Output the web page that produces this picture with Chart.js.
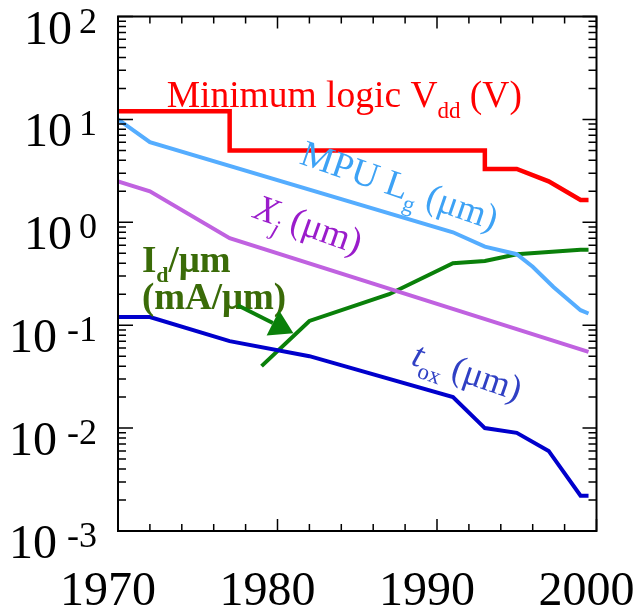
<!DOCTYPE html>
<html><head><meta charset="utf-8">
<style>html,body{margin:0;padding:0;background:#fff}</style>
<script src="https://cdn.jsdelivr.net/npm/chart.js@4/dist/chart.umd.min.js"></script>
</head><body>
<canvas id="c" width="633" height="611" style="display:block"></canvas>
<script>
// ---- data ----
const vddYears  = [1970, 1977, 1977, 1993, 1993, 1995, 1997, 1999, 1999.5];
const vddValues = [12, 12, 5, 5, 3.3, 3.3, 2.5, 1.65, 1.65];
const lgYears   = [1970, 1972, 1991, 1993, 1995, 1996, 1997.3, 1999, 1999.5];
const lgValues  = [10, 6, 0.8, 0.58, 0.49, 0.37, 0.235, 0.14, 0.13];
const xjYears   = [1970, 1972, 1977, 1999.5];
const xjValues  = [2.5, 2.0, 0.7, 0.055];
const toxYears  = [1970, 1972, 1977, 1982, 1991, 1993, 1995, 1997, 1999, 1999.5];
const toxValues = [0.12, 0.12, 0.07, 0.05, 0.02, 0.01, 0.009, 0.006, 0.0022, 0.0022];
const idYears   = [1979, 1982, 1987, 1991, 1993, 1995, 1999, 1999.5];
const idValues  = [0.04, 0.11, 0.2, 0.4, 0.42, 0.49, 0.54, 0.54];
const xTickLabels = [1970, 1980, 1990, 2000];
const xMinorTicks = [1972,1974,1976,1978,1982,1984,1986,1988,1992,1994,1996,1998];
const yExponents  = [-3, -2, -1, 0, 1, 2];

const SERIF = "'Liberation Serif', 'Times New Roman', serif";
const pts = (xs, ys) => xs.map((v, i) => ({x: v, y: ys[i]}));

// ---- annotations (in data coordinates) ----
const annotations = [
  {x: 1973.05, y: 13.15, angle: 0, color: '#ff0000', parts: [
    {t: 'Minimum logic V', f: '37.5px ' + SERIF},
    {t: 'dd', f: '23px ' + SERIF, dy: 11},
    {t: ' (V)', f: '37.5px ' + SERIF}]},
  {x: 1981.3, y: 3.74, angle: 19, color: '#3da2f5', parts: [
    {t: 'MPU L', f: '37px ' + SERIF},
    {t: 'g', f: '23px ' + SERIF, dy: 10},
    {t: ' (\u03BCm)', f: '37px ' + SERIF}]},
  {x: 1978.4, y: 1.12, angle: 19.5, color: '#9a1ccb', parts: [
    {t: 'X', f: 'italic 37px ' + SERIF},
    {t: 'j', f: 'italic 23px ' + SERIF, dy: 10},
    {t: ' (\u03BCm)', f: '37px ' + SERIF}]},
  {x: 1988.3, y: 0.0418, angle: 19, color: '#3040c4', parts: [
    {t: 't', f: 'italic 36px ' + SERIF},
    {t: 'ox', f: '23px ' + SERIF, dy: 10},
    {t: ' (\u03BCm)', f: '36px ' + SERIF}]},
  {x: 1971.5, y: 0.329, angle: 0, color: '#3a6b08', parts: [
    {t: 'I', f: 'bold 37px ' + SERIF},
    {t: 'd', f: 'bold 22px ' + SERIF, dy: 10},
    {t: '/\u03BCm', f: 'bold 37px ' + SERIF}]},
  {x: 1971.5, y: 0.145, angle: 0, color: '#3a6b08', parts: [
    {t: '(mA/\u03BCm)', f: 'bold 37px ' + SERIF}]}
];
const arrowFrom = {x: 1977.5, y: 0.156};
const arrowTo   = {x: 1981.0, y: 0.0835};

const decor = {
  id: 'decor',
  afterDraw(chart) {
    const {ctx, chartArea: a, scales: {x, y}} = chart;
    ctx.save();
    // annotation texts
    for (const an of annotations) {
      ctx.save();
      ctx.translate(x.getPixelForValue(an.x), y.getPixelForValue(an.y));
      ctx.rotate(an.angle * Math.PI / 180);
      ctx.fillStyle = an.color;
      ctx.textBaseline = 'alphabetic';
      ctx.textAlign = 'left';
      let cx = 0;
      for (const p of an.parts) {
        ctx.font = p.f;
        ctx.fillText(p.t, cx, p.dy || 0);
        cx += ctx.measureText(p.t).width;
      }
      ctx.restore();
    }
    // arrow
    const x0 = x.getPixelForValue(arrowFrom.x), y0 = y.getPixelForValue(arrowFrom.y);
    const x1 = x.getPixelForValue(arrowTo.x), y1 = y.getPixelForValue(arrowTo.y);
    const ang = Math.atan2(y1 - y0, x1 - x0);
    const hl = 23, hw = 14;
    const bx = x1 - hl * Math.cos(ang), by = y1 - hl * Math.sin(ang);
    ctx.strokeStyle = '#0a800a'; ctx.fillStyle = '#0a800a'; ctx.lineWidth = 4;
    ctx.beginPath(); ctx.moveTo(x0, y0); ctx.lineTo(bx, by); ctx.stroke();
    ctx.beginPath();
    ctx.moveTo(x1, y1);
    ctx.lineTo(bx + hw * Math.sin(ang), by - hw * Math.cos(ang));
    ctx.lineTo(bx - hw * Math.sin(ang), by + hw * Math.cos(ang));
    ctx.closePath(); ctx.fill();

    // frame
    ctx.strokeStyle = '#000'; ctx.lineWidth = 2;
    ctx.strokeRect(a.left, a.top, a.right - a.left, a.bottom - a.top);
    // y ticks
    ctx.lineWidth = 1.5;
    ctx.beginPath();
    for (const e of yExponents) {
      const py = y.getPixelForValue(Math.pow(10, e));
      ctx.moveTo(a.left, py); ctx.lineTo(a.left + 15, py);
      ctx.moveTo(a.right, py); ctx.lineTo(a.right - 14, py);
      if (e < 2) {
        for (let k = 2; k <= 9; k++) {
          const my = y.getPixelForValue(k * Math.pow(10, e));
          ctx.moveTo(a.left, my); ctx.lineTo(a.left + 8, my);
          ctx.moveTo(a.right, my); ctx.lineTo(a.right - 8, my);
        }
      }
    }
    // x ticks
    for (const v of xMinorTicks) {
      const px = x.getPixelForValue(v);
      ctx.moveTo(px, a.top); ctx.lineTo(px, a.top + 7);
      ctx.moveTo(px, a.bottom); ctx.lineTo(px, a.bottom - 7);
    }
    for (const v of xTickLabels) {
      const px = x.getPixelForValue(v);
      ctx.moveTo(px, a.top); ctx.lineTo(px, a.top + 12);
      ctx.moveTo(px, a.bottom); ctx.lineTo(px, a.bottom - 12);
    }
    ctx.stroke();

    // x labels
    ctx.fillStyle = '#000';
    ctx.font = '48px ' + SERIF;
    ctx.textAlign = 'center';
    ctx.textBaseline = 'alphabetic';
    for (const v of xTickLabels) {
      ctx.fillText(String(v), x.getPixelForValue(v) - 10, a.bottom + 74);
    }
    // y labels: 10^e
    ctx.textAlign = 'right';
    for (const e of yExponents) {
      const py = y.getPixelForValue(Math.pow(10, e));
      const es = String(e);
      ctx.font = '36px ' + SERIF;
      const ew = ctx.measureText(es).width;
      const right = a.left - 21;
      ctx.fillText(es, right, py + 16);
      ctx.font = '48px ' + SERIF;
      ctx.fillText('10', right - ew - (e < 0 ? 10 : 7), py + 27);
    }
    ctx.restore();
  }
};

const ds = (label, xs, ys, color, w) => ({
  label, data: pts(xs, ys), borderColor: color, backgroundColor: color,
  borderWidth: w, pointRadius: 0, tension: 0, fill: false,
  borderJoinStyle: 'miter', borderCapStyle: 'butt'
});

new Chart(document.getElementById('c'), {
  type: 'line',
  data: {
    datasets: [
      ds('Minimum logic Vdd (V)', vddYears, vddValues, '#ff0000', 4.5),
      ds('MPU Lg (\u03BCm)', lgYears, lgValues, '#55adff', 4),
      ds('Xj (\u03BCm)', xjYears, xjValues, '#c062e0', 4),
      ds('tox (\u03BCm)', toxYears, toxValues, '#0000cc', 4),
      ds('Id/\u03BCm (mA/\u03BCm)', idYears, idValues, '#0a800a', 4)
    ]
  },
  options: {
    responsive: false,
    animation: false,
    devicePixelRatio: 1,
    layout: {padding: {left: 118, top: 16.5, right: 36.5, bottom: 80}},
    plugins: {legend: {display: false}, tooltip: {enabled: false}},
    scales: {
      x: {type: 'linear', min: 1970, max: 2000, display: false},
      y: {type: 'logarithmic', min: 0.001, max: 100, display: false}
    }
  },
  plugins: [decor]
});
</script>
</body></html>
